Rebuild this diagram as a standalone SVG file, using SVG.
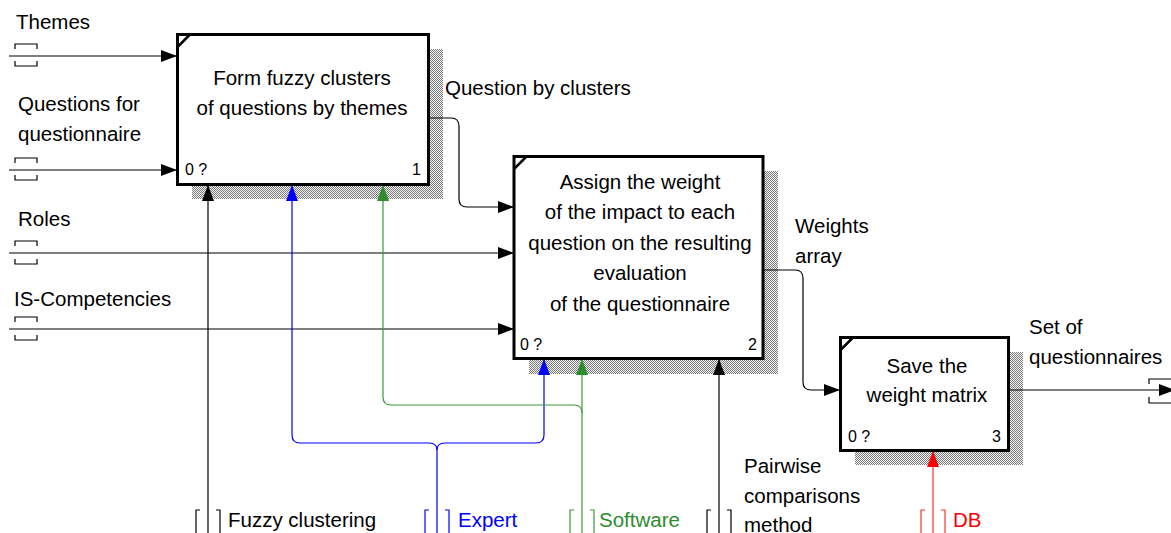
<svg xmlns="http://www.w3.org/2000/svg" width="1171" height="533" viewBox="0 0 1171 533">
<style>
text{font-family:"Liberation Sans",Arial,sans-serif;font-size:20.5px;fill:#000}
.sm{font-size:16px}
.c{text-anchor:middle}
.r{text-anchor:end}
.box{fill:#fff;stroke:#000;stroke-width:3}
.sh{fill:url(#dots)}
.ln{fill:none;stroke:#000;stroke-width:1.2}
.tn{fill:none;stroke:#000;stroke-width:1.2}
.blue{stroke:#0000ff}
.green{stroke:#3a9a3a}
.red{stroke:#ff3030}
</style>
<defs>
<pattern id="dots" width="2" height="2" patternUnits="userSpaceOnUse">
<rect width="2" height="2" fill="#f4f4f4"/>
<rect width="1" height="1" fill="#7a7a7a"/>
<rect x="1" y="1" width="1" height="1" fill="#7a7a7a"/>
</pattern>
<marker id="ak" markerUnits="userSpaceOnUse" markerWidth="16" markerHeight="12" refX="16" refY="6" orient="auto"><path d="M0,0L16,6L0,12z" fill="#000"/></marker>
<marker id="ab" markerUnits="userSpaceOnUse" markerWidth="16" markerHeight="12" refX="16" refY="6" orient="auto"><path d="M0,0L16,6L0,12z" fill="#0000ff"/></marker>
<marker id="ag" markerUnits="userSpaceOnUse" markerWidth="16" markerHeight="12" refX="16" refY="6" orient="auto"><path d="M0,0L16,6L0,12z" fill="#2e8b2e"/></marker>
<marker id="ar" markerUnits="userSpaceOnUse" markerWidth="16" markerHeight="12" refX="16" refY="6" orient="auto"><path d="M0,0L16,6L0,12z" fill="#ff0000"/></marker>
</defs>

<g id="shadows">
<rect class="sh" x="192" y="49" width="251" height="150"/>
<rect class="sh" x="529" y="171" width="249" height="203"/>
<rect class="sh" x="855" y="352" width="168" height="113"/>
</g>

<g id="connectors">
<path class="ln" d="M9,56H177" marker-end="url(#ak)"/>
<path class="ln" d="M9,170H177" marker-end="url(#ak)"/>
<path class="ln" d="M9,253H514" marker-end="url(#ak)"/>
<path class="ln" d="M9,329H514" marker-end="url(#ak)"/>
<path class="tn" d="M15,49V44H37V49M15,61V66H37V61"/>
<path class="tn" d="M15,163V158H37V163M15,175V180H37V175"/>
<path class="tn" d="M15,246V241H37V246M15,259V264H37V259"/>
<path class="tn" d="M15,322V317H37V322M15,335V340H37V335"/>
<path class="ln" d="M429,118H451Q459,118 459,126V199Q459,207 467,207H514" marker-end="url(#ak)"/>
<path class="ln" d="M764,270H795Q803,270 803,278V382Q803,390 811,390H840" marker-end="url(#ak)"/>
<path class="ln" d="M1009,390H1175" marker-end="url(#ak)"/>
<path class="tn" d="M1171,379H1149V384M1149,397V403H1171"/>
<path class="ln" d="M208,533V185" marker-end="url(#ak)"/>
<path class="ln" d="M719,533V359" marker-end="url(#ak)"/>
<path class="ln blue" d="M437,533V450Q437,443 429,443H300Q292,443 292,435V185" marker-end="url(#ab)"/>
<path class="ln blue" d="M437,450Q437,443 445,443H536Q544,443 544,435V359" marker-end="url(#ab)"/>
<path class="ln green" d="M582,533V359" marker-end="url(#ag)"/>
<path class="ln green" d="M582,413Q582,405 574,405H391Q383,405 383,397V185" marker-end="url(#ag)"/>
<path class="ln red" d="M933,533V451" marker-end="url(#ar)"/>
<path class="tn" d="M200,510H196V533M216,510H220V533"/>
<path class="tn blue" d="M429,510H425V533M445,510H449V533"/>
<path class="tn green" d="M574,510H570V533M590,510H594V533"/>
<path class="tn" d="M711,510H707V533M727,510H731V533"/>
<path class="tn red" d="M925,510H921V533M941,510H945V533"/>
</g>

<g id="node1">
<rect class="box" x="177.5" y="34.5" width="251" height="150"/>
<path d="M177.5,47L190,34.5" stroke="#000" stroke-width="2.5"/>
<text class="c" x="302" y="85">Form fuzzy clusters</text>
<text class="c" x="302" y="115">of questions by themes</text>
<text class="sm" x="185" y="175">0 ?</text>
<text class="sm r" x="421" y="175">1</text>
</g>

<g id="node2">
<rect class="box" x="514" y="156.5" width="249" height="202"/>
<path d="M514,169L526.5,156.5" stroke="#000" stroke-width="2.5"/>
<text class="c" x="640" y="189">Assign the weight</text>
<text class="c" x="640" y="219">of the impact to each</text>
<text class="c" x="640" y="250">question on the resulting</text>
<text class="c" x="640" y="280">evaluation</text>
<text class="c" x="640" y="311">of the questionnaire</text>
<text class="sm" x="520" y="350">0 ?</text>
<text class="sm r" x="757" y="350">2</text>
</g>

<g id="node3">
<rect class="box" x="840.5" y="337.5" width="168" height="113"/>
<path d="M840.5,350L853,337.5" stroke="#000" stroke-width="2.5"/>
<text class="c" x="927" y="373">Save the</text>
<text class="c" x="927" y="402">weight matrix</text>
<text class="sm" x="848" y="442">0 ?</text>
<text class="sm r" x="1001" y="442">3</text>
</g>

<g id="labels">
<text x="16" y="29">Themes</text>
<text x="18" y="111">Questions for</text>
<text x="18" y="141">questionnaire</text>
<text x="18" y="226">Roles</text>
<text x="14" y="306">IS-Competencies</text>
<text x="445" y="95">Question by clusters</text>
<text x="795" y="233">Weights</text>
<text x="795" y="263">array</text>
<text x="1029" y="334">Set of</text>
<text x="1029" y="364">questionnaires</text>
<text x="228" y="527">Fuzzy clustering</text>
<text x="458" y="527" style="fill:#0000ff">Expert</text>
<text x="599" y="527" style="fill:#2e8b2e">Software</text>
<text x="744" y="473">Pairwise</text>
<text x="744" y="503">comparisons</text>
<text x="744" y="532">method</text>
<text x="953" y="527" style="fill:#ff0000">DB</text>
</g>
</svg>
